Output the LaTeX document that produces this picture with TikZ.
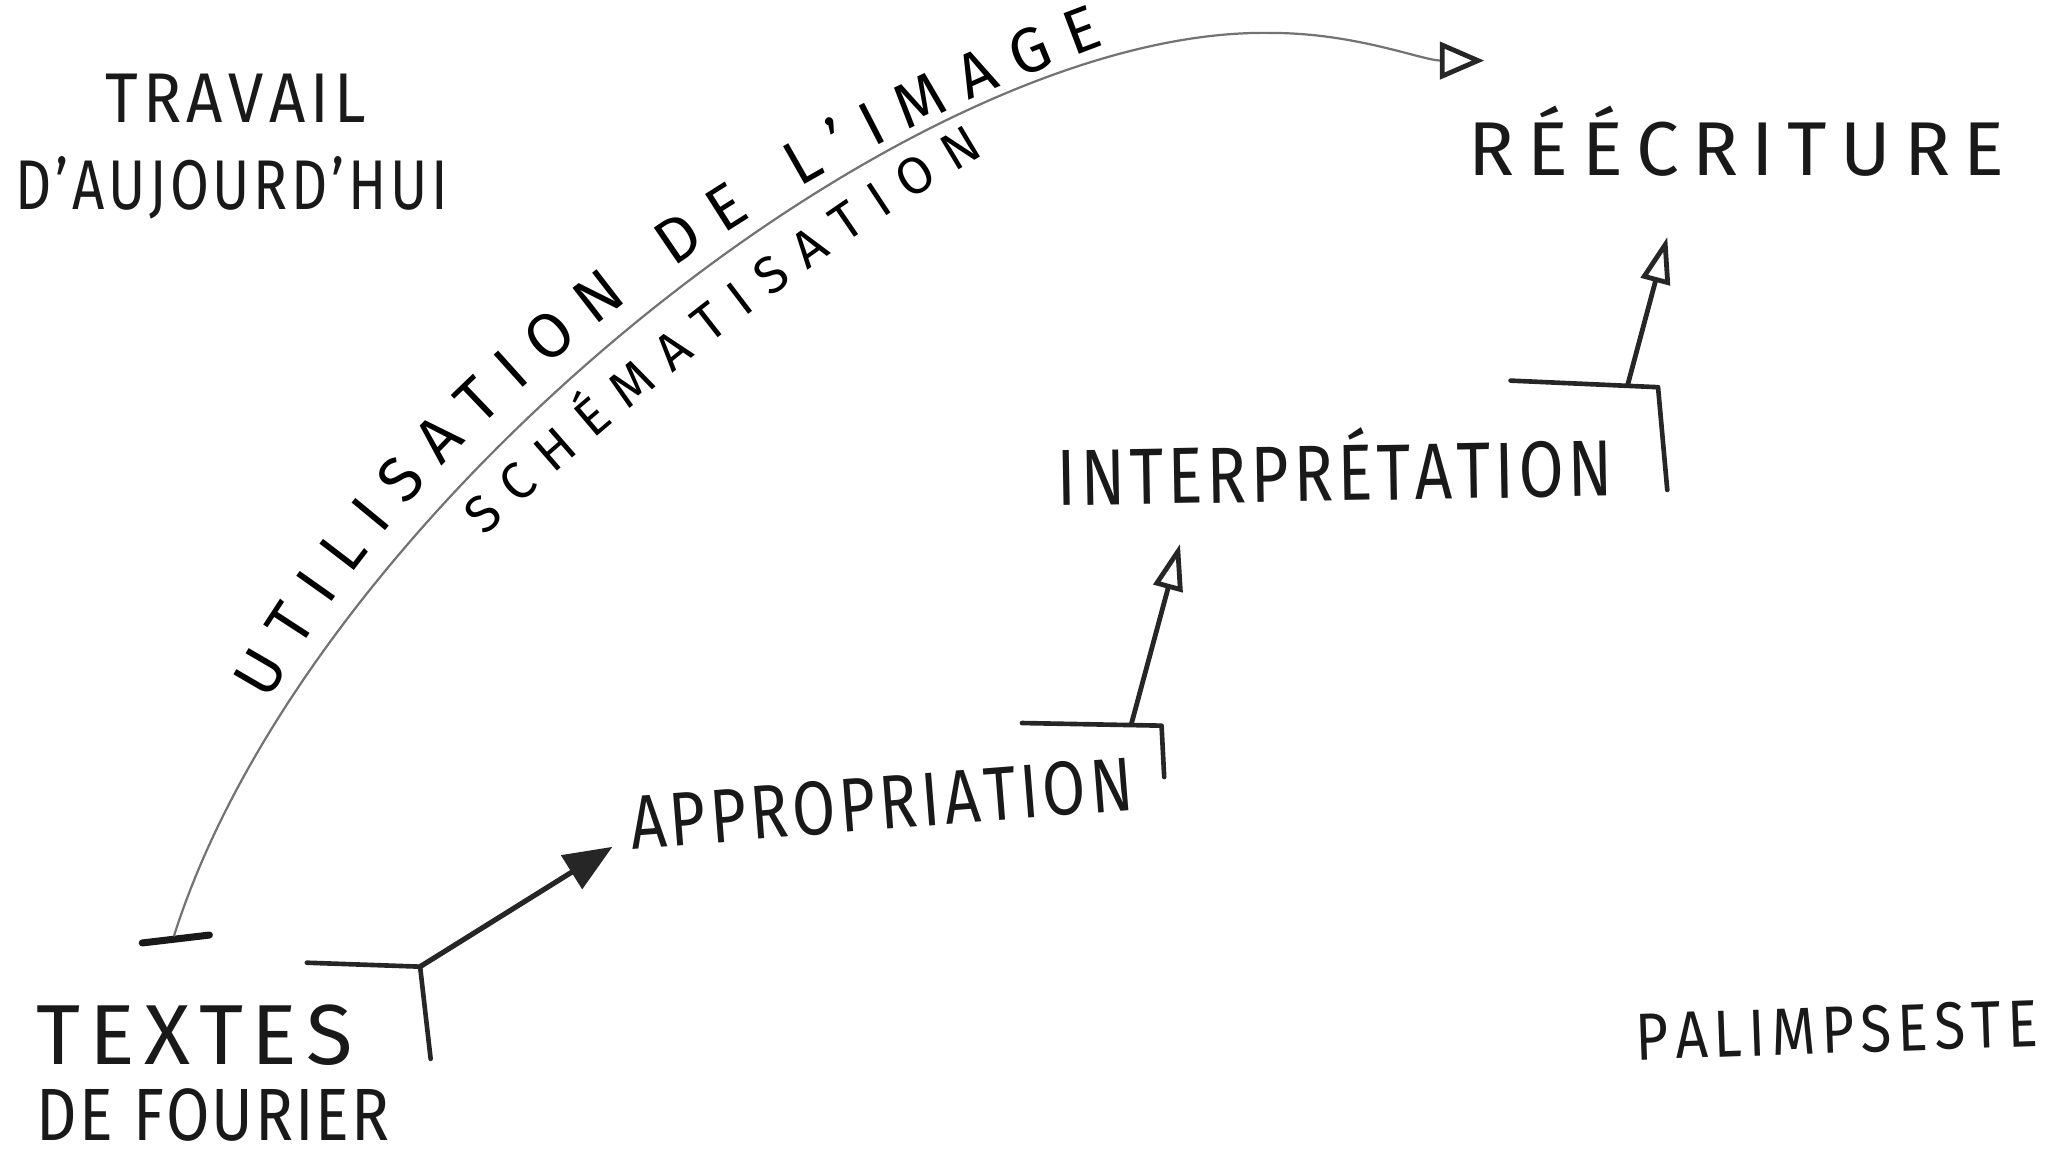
\documentclass[tikz,border=0pt]{standalone}
\usepackage{fontspec}
\setmainfont{Fira Sans}
\usetikzlibrary{arrows.meta,decorations.text}
\newlength\dimu
\setlength\dimu{0.0125cm}
\makeatletter
\newcommand\spr[2]{\makebox[#1][s]{\def\spr@sep{}\@tfor\spr@t:=#2\do{\spr@sep\spr@t\def\spr@sep{\hfil}}}}
\makeatother
\newcommand\fsz[1]{\fontsize{#1}{#1}\selectfont}
\newcommand\hw[4]{\scalebox{#1}[1]{\fsz{#3}\spr{#2\dimu}{#4}}}
\begin{document}
\begin{tikzpicture}[x=0.0125cm,y=0.0125cm,
  lbl/.style={inner sep=0pt, outer sep=0pt, anchor=base west, text=black!90},
  stepline/.style={line width=1.25pt, black!85, line cap=round, line join=round},
  upar/.style={line width=1.3pt, black!85, line cap=round, -{Triangle[open, length=12.5pt, width=8pt, line width=1.3pt]}},
  firstar/.style={line width=1.4pt, black!85, line cap=round, -{Triangle[length=13pt, width=10.5pt]}},
  arcline/.style={line width=0.6pt, black!55, -{Triangle[open, length=12pt, width=10pt, line width=1.3pt, color=black!85]}},
  barline/.style={line width=1.9pt, black!90, line cap=round}
]
\useasboundingbox (0,0) rectangle (1568,-876);

% labels
\node[lbl] (travail) at (80,-93) {\hw{0.9}{220}{19}{TRAVAIL}};
\node[lbl] (aujourdhui) at (12,-159) {\hw{0.8}{410}{19}{D'AUJOURD'HUI}};
\node[lbl] (reecriture) at (1115,-133) {\hw{1}{407}{20.6}{RÉÉCRITURE}};
\node[lbl, rotate=1] (interp) at (803,-384) {\hw{0.82}{515}{21.5}{INTERPRÉTATION}};
\node[lbl, rotate=4.5] (appro) at (480,-645) {\hw{0.82}{467}{20.6}{APPROPRIATION}};
\node[lbl] (textes) at (28,-808) {\hw{1}{240}{23}{TEXTES}};
\node[lbl] (fourier) at (28,-866) {\hw{0.85}{315}{20}{DE~FOURIER}};
\node[lbl, rotate=2] (palimp) at (1243,-805) {\hw{0.85}{359}{18}{PALIMPSESTE}};

% coordinates
\coordinate (barL) at (108,-716);
\coordinate (barR) at (159,-710);
\coordinate (arcS) at (132,-711);
\coordinate (arcP) at (965,-25);
\coordinate (arcE) at (1127,-46);

\coordinate (s1a) at (233,-731);
\coordinate (s1c) at (319,-734);
\coordinate (s1b) at (327,-804);
\coordinate (a1) at (465,-643);

\coordinate (s2a) at (776,-549);
\coordinate (s2c) at (882,-551);
\coordinate (s2b) at (884,-590);
\coordinate (s2o) at (859,-550);
\coordinate (a2) at (896,-413);

\coordinate (s3a) at (1147,-289);
\coordinate (s3c) at (1259,-294);
\coordinate (s3b) at (1266,-372);
\coordinate (s3o) at (1236,-292);
\coordinate (a3) at (1266,-180);

\coordinate (t1s) at (204,-533);
\coordinate (t1e) at (839,-34);
\coordinate (t2s) at (368,-407);
\coordinate (t2e) at (748,-117);

% big arc
\draw[barline] (barL) -- (barR);
\draw[arcline] (arcS) .. controls (235,-385) and (690,-20) .. (arcP)
  .. controls (1030,-25) and (1080,-46) .. (arcE);

% arc labels
\path[decorate, decoration={text along path, text={|\fsz{17}|UTILISATION DE L'IMAGE}, text align={fit to path}}]
  (t1s) .. controls (336,-296) and (582,-129) .. (t1e);
\path[decorate, decoration={text along path, text={|\fsz{14}|SCHÉMATISATION}, text align={fit to path}}]
  (t2s) .. controls (487,-299) and (610,-198) .. (t2e);

% steps
\draw[stepline] (s1a) -- (s1c) -- (s1b);
\draw[firstar] (s1c) -- (a1);
\draw[stepline] (s2a) -- (s2c) -- (s2b);
\draw[upar] (s2o) -- (a2);
\draw[stepline] (s3a) -- (s3c) -- (s3b);
\draw[upar] (s3o) -- (a3);
\end{tikzpicture}
\end{document}
